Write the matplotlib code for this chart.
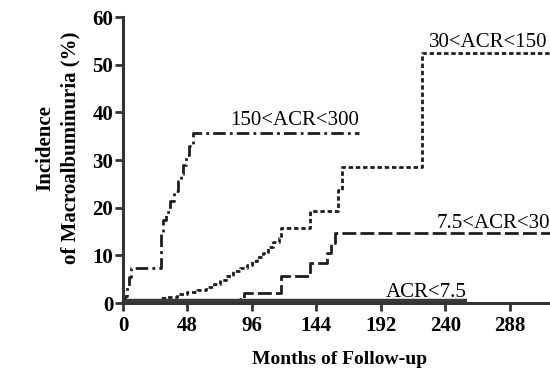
import matplotlib
matplotlib.use("Agg")
import matplotlib.pyplot as plt

# Data (months, cumulative incidence %)
g150_t = [0, 1.5, 3, 4.5, 6, 28, 30, 32, 35, 38, 41, 43, 45, 47, 49, 52, 176]
g150_y = [0, 1.5, 3.5, 5.5, 7.3, 15, 17.5, 19, 21.5, 23.5, 25.5, 27, 29, 31, 33, 35.7, 35.7]

g30_t = [0, 22, 28, 33, 40, 48, 55, 62, 68, 72, 77, 82, 87, 92, 96, 100, 104, 108,
         112, 116, 118, 139, 160, 163, 223, 318]
g30_y = [0, 0.5, 1.0, 1.3, 1.8, 2.3, 2.8, 3.4, 4.0, 4.8, 5.7, 6.7, 7.4, 8.0, 8.8, 9.6,
         10.6, 11.7, 12.7, 13.6, 15.7, 19.3, 23.7, 28.5, 52.4, 52.4]

g7_t = [0, 87, 90, 118, 139, 152, 155, 158, 318]
g7_y = [0, 0.8, 2.0, 5.7, 8.4, 10.5, 12.5, 14.7, 14.7]

g0_t = [0, 256]
g0_y = [0.4, 0.4]

xticks = [0, 48, 96, 144, 192, 240, 288]
yticks = [0, 10, 20, 30, 40, 50, 60]

plt.rcParams['font.family'] = ['Liberation Serif', 'DejaVu Serif']

fig = plt.figure(figsize=(5.5, 3.7), dpi=100)
ax = fig.add_axes([0.2236, 0.181, 0.7764, 0.773])

col = '#1e1e1e'
ax.plot(g150_t, g150_y, drawstyle='steps-post', color=col, lw=2,
        linestyle=(0, (4.5, 1.5, 1, 1.5)))
ax.plot(g30_t, g30_y, drawstyle='steps-post', color=col, lw=2,
        linestyle=(0, (1.6, 1.0)))
ax.plot(g7_t, g7_y, drawstyle='steps-post', color=col, lw=2,
        linestyle=(0, (5, 1.5)))
ax.plot(g0_t, g0_y, color='#3a3a3a', lw=3.2, solid_capstyle='butt')

ax.set_xlim(0, 318)
ax.set_ylim(0, 60)
ax.set_xticks(xticks)
ax.set_yticks(yticks)
ax.spines['right'].set_visible(False)
ax.spines['top'].set_visible(False)
for s in ['left', 'bottom']:
    ax.spines[s].set_linewidth(2.2)
    ax.spines[s].set_color('#333333')
ax.tick_params(direction='out', length=5.5, width=2, color='#333333',
               labelsize=15)
ax.tick_params(axis='x', pad=4)
ax.tick_params(axis='y', pad=1.5)
for lab in ax.get_xticklabels() + ax.get_yticklabels():
    lab.set_fontweight('bold')

fig.text(340 / 550, 1 - 359 / 370, 'Months of Follow-up', fontsize=14,
         fontweight='bold', ha='center', va='center')
fig.text(57.5 / 550, 1 - 148 / 370, 'Incidence\nof Macroalbuminuria (%)',
         fontsize=15, fontweight='bold', rotation=90, ha='center', va='center',
         multialignment='center', linespacing=1.35)

ax.text(176, 37.3, '150<ACR<300', fontsize=15, ha='right', va='baseline')
ax.text(316, 53.7, '30<ACR<150', fontsize=15, ha='right', va='baseline')
ax.text(318, 15.7, '7.5<ACR<30', fontsize=15, ha='right', va='baseline')
ax.text(256, 1.3, 'ACR<7.5', fontsize=15, ha='right', va='baseline')

fig.savefig('out.png', dpi=100)
